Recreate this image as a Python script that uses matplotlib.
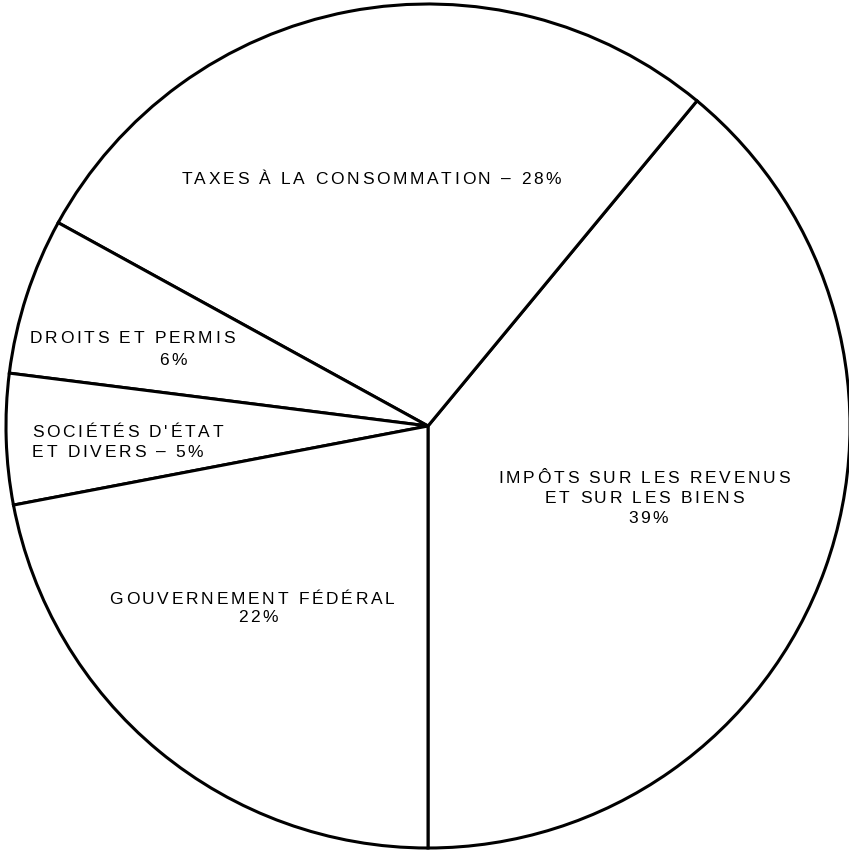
import matplotlib
matplotlib.use("Agg")
import matplotlib.pyplot as plt
from matplotlib.font_manager import FontProperties, findfont, get_font

categories = ["IMPÔTS SUR LES REVENUS\nET SUR LES BIENS\n39%",
              "TAXES À LA CONSOMMATION – 28%",
              "DROITS ET PERMIS\n6%",
              "SOCIÉTÉS D'ÉTAT\nET DIVERS – 5%",
              "GOUVERNEMENT FÉDÉRAL\n22%"]
values = [39, 28, 6, 5, 22]

W, H = 849, 853
DPI = 100
FS = 12.5
SPACING = 2.7  # extra pixels between letters

fig = plt.figure(figsize=(W / DPI, H / DPI), dpi=DPI)
ax = fig.add_axes([0, 0, 1, 1])

cx, cy, r = 428, H - 427, 422
ax.pie(values, startangle=-90, counterclock=True, center=(cx, cy), radius=r,
       colors=["white"] * len(values),
       wedgeprops=dict(edgecolor="black", linewidth=2.2), frame=True)
ax.set_xlim(0, W)
ax.set_ylim(0, H)
ax.set_aspect("equal")
ax.axis("off")

prop = FontProperties(family="Liberation Sans", size=FS)
ft = get_font(findfont(prop))
ft.set_size(FS, DPI)


def adv(c):
    g = ft.load_char(ord(c))
    return g.linearHoriAdvance / 65536.0


def spaced_text(s, x, baseline, ha="center"):
    widths = [adv(c) for c in s]
    total = sum(widths) + SPACING * (len(s) - 1)
    x0 = x - total / 2 if ha == "center" else x
    for c, w in zip(s, widths):
        if c != " ":
            ax.text(x0, H - baseline, c, ha="left", va="baseline",
                    fontproperties=prop, color="black")
        x0 += w + SPACING


# per-line placement: (x, baseline from top, alignment)
placements = [
    [(644, 483, "center"), (644, 503, "center"), (648, 523, "center")],
    [(371, 184, "center")],
    [(132, 343, "center"), (173, 365, "center")],
    [(32, 437, "left"), (32, 457, "left")],
    [(252, 604, "center"), (258, 622, "center")],
]
for lab, pl in zip(categories, placements):
    for line, (x, y, ha) in zip(lab.split("\n"), pl):
        spaced_text(line, x, y, ha)

fig.savefig("out.png", dpi=DPI, facecolor="white")
